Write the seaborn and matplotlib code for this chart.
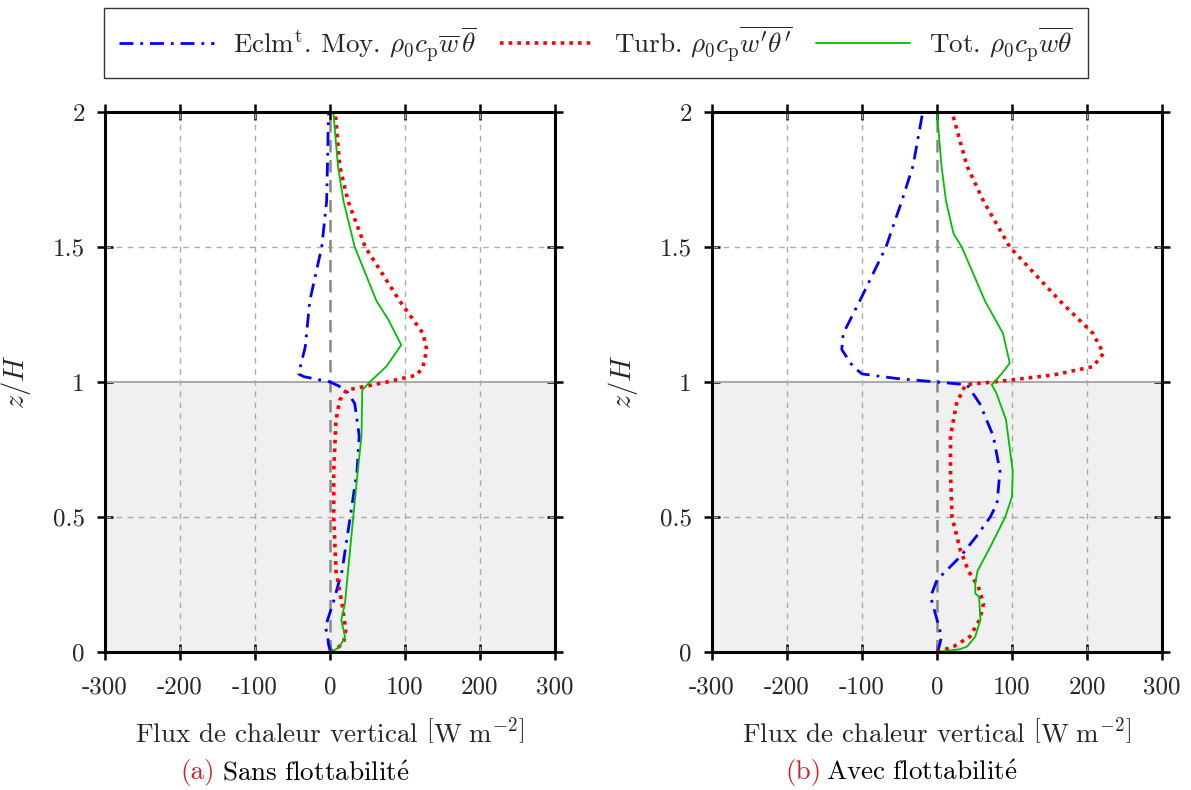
import matplotlib
matplotlib.use("Agg")
import matplotlib.pyplot as plt
import numpy as np
import pandas as pd
import seaborn as sns

# --- data (z/H, flux in W m^-2) ---
# (a) Sans flottabilite
z_mean_a = [0.0, 0.03, 0.056, 0.093, 0.125, 0.18, 0.30, 0.50, 0.67, 0.80, 0.92, 0.96, 0.985,
            1.0, 1.02, 1.03, 1.13, 1.30, 1.50, 1.67, 1.85, 2.0]
flux_mean_a = [0.5, -2, -3, -6, -2.5, 4, 16, 27, 36, 39, 33, 24, 12,
               0, -35, -42, -33, -27, -11, -4.5, -3, -2]
z_turb_a = [0.0, 0.015, 0.033, 0.08, 0.18, 0.30, 0.50, 0.67, 0.86, 0.933, 0.97,
            1.0, 1.026, 1.057, 1.12, 1.18, 1.30, 1.50, 1.67, 1.80, 2.0]
flux_turb_a = [0.5, 10, 18, 21, 16, 8, 5, 5, 8, 13, 22,
               76, 116, 124, 129, 124, 93, 47, 24, 13, 7]
z_tot_a = [0.0, 0.01, 0.02, 0.056, 0.119, 0.18, 0.30, 0.50, 0.67, 0.80, 0.97,
           1.0, 1.057, 1.137, 1.23, 1.30, 1.50, 1.67, 1.80, 2.0]
flux_tot_a = [0.5, 8, 13, 20, 15, 20, 24, 31, 37, 42, 43,
              53, 75, 95, 78, 62, 33, 18, 10.6, 4.4]

# (b) Avec flottabilite
z_mean_b = [0.0, 0.01, 0.057, 0.12, 0.205, 0.267, 0.353, 0.43, 0.50, 0.55, 0.67, 0.80, 0.92,
            0.99, 1.0, 1.013, 1.03, 1.057, 1.12, 1.18, 1.30, 1.50, 1.67, 1.80, 2.0]
flux_mean_b = [0, 2, 6, 0, -8.5, 0, 31, 53, 71, 80, 84, 75, 57,
               40, 0, -54, -100, -112, -127, -125, -103, -68, -47, -32, -19]
z_turb_b = [0.0, 0.02, 0.057, 0.12, 0.18, 0.242, 0.30, 0.378, 0.50, 0.67, 0.80, 0.92, 0.99,
            1.0, 1.026, 1.057, 1.106, 1.18, 1.30, 1.50, 1.67, 1.80, 2.0]
flux_turb_b = [0, 22, 44, 57, 62, 55, 42, 31, 20, 18, 18, 26, 38,
               75, 155, 208, 222, 208, 164, 97, 62, 40, 20]
z_tot_b = [0.0, 0.01, 0.02, 0.057, 0.12, 0.205, 0.217, 0.254, 0.30, 0.40, 0.50, 0.575, 0.67,
           0.86, 0.96, 0.99, 1.03, 1.07, 1.18, 1.30, 1.50, 1.55, 1.67, 1.80, 2.0]
flux_tot_b = [0, 30, 40, 51, 58, 56, 51, 51, 54, 73, 91, 100, 101,
              92, 79, 73, 86, 97, 88, 64, 33, 22, 12, 6, 0]

x_ticks = [-300, -200, -100, 0, 100, 200, 300]
x_ticklabels = ["-300", "-200", "-100", "0", "100", "200", "300"]
y_ticks = [0, 0.5, 1, 1.5, 2]
y_ticklabels = ["0", "0.5", "1", "1.5", "2"]

labels = [
    r"Eclm$^{\mathrm{t}}$. Moy. $\rho_0 c_\mathrm{p}\overline{w}\,\overline{\theta}$",
    r"Turb. $\rho_0 c_\mathrm{p}\overline{w'\theta'}$",
    r"Tot. $\rho_0 c_\mathrm{p}\overline{w\theta}$",
]
captions = [("(a)", r"$\mathrm{Sans\ flottabilit\acute{e}}$"),
            ("(b)", r"$\mathrm{Avec\ flottabilit\acute{e}}$")]

sns.set_theme(style="ticks")
plt.rcParams["font.family"] = ["cmr10", "DejaVu Serif"]
plt.rcParams["mathtext.fontset"] = "cm"
plt.rcParams["axes.formatter.use_mathtext"] = True
FS_TICK = 18
FS_LAB = 19.5

styles = [
    dict(color="#0000ff", linestyle=(0, (5, 2.5, 1, 2.5)), linewidth=2.0),
    dict(color="#ff0000", linestyle=(0, (1, 1.4)), linewidth=2.6),
    dict(color="#00c000", linestyle="-", linewidth=1.3),
]

panels = [
    [(z_mean_a, flux_mean_a), (z_turb_a, flux_turb_a), (z_tot_a, flux_tot_a)],
    [(z_mean_b, flux_mean_b), (z_turb_b, flux_turb_b), (z_tot_b, flux_tot_b)],
]

fig = plt.figure(figsize=(11.91, 7.9), dpi=100)
ax_lefts = [105 / 1191, 712 / 1191]
axes = []
for k, curves in enumerate(panels):
    ax = fig.add_axes([ax_lefts[k], 138 / 790, 450 / 1191, 540 / 790])
    axes.append(ax)

    # shaded canopy region and reference lines
    ax.axhspan(0, 1, color="#f0f0f0", zorder=0, linewidth=0)
    for xv in [-200, -100, 100, 200]:
        ax.axvline(xv, color="#aaaaaa", linestyle=(0, (4, 4)), linewidth=1.0, zorder=1)
    for yv in [0.5, 1.5]:
        ax.axhline(yv, color="#aaaaaa", linestyle=(0, (4, 4)), linewidth=1.0, zorder=1)
    ax.axvline(0, color="#888888", linestyle=(0, (5, 3)), linewidth=1.8, zorder=1)
    ax.axhline(1, color="#aaaaaa", linestyle="-", linewidth=1.4, zorder=1)

    for (z, flux), st, lab in zip(curves, styles, labels):
        df = pd.DataFrame({"flux": flux, "z": z})
        sns.lineplot(data=df, x="flux", y="z", sort=False, estimator=None,
                     ax=ax, label=lab, legend=False, zorder=3, **st)

    ax.set_xlim(-300, 300)
    ax.set_ylim(0, 2)
    ax.set_xticks(x_ticks)
    ax.set_xticklabels(x_ticklabels, fontsize=FS_TICK)
    ax.set_yticks(y_ticks)
    ax.set_yticklabels(y_ticklabels, fontsize=FS_TICK)
    ax.tick_params(axis="both", direction="inout", length=11, width=1.8,
                   top=True, right=True, color="black")
    ax.tick_params(axis="x", pad=12)
    ax.tick_params(axis="y", pad=9)
    for sp in ax.spines.values():
        sp.set_linewidth(2.2)
        sp.set_color("black")
        sp.set_zorder(5)
    ax.set_xlabel(r"Flux de chaleur vertical $\left[\mathrm{W\ m^{-2}}\right]$",
                  fontsize=FS_LAB, labelpad=14)
    ax.set_ylabel(r"$z/H$", fontsize=FS_LAB + 1, labelpad=14)
    ax.set_facecolor("white")

# captions below each panel
cap_x = [(180, 222), (785, 826)]
for (tag, txt), (x0, x1) in zip(captions, cap_x):
    fig.text(x0 / 1191, 1 - 773 / 790, tag, color="#d42020", fontsize=FS_LAB,
             ha="left", va="center")
    fig.text(x1 / 1191, 1 - 773 / 790, txt, color="black", fontsize=FS_LAB,
             ha="left", va="center")

handles, labs = axes[0].get_legend_handles_labels()
leg = fig.legend(handles, labs, loc="upper center", bbox_to_anchor=(596 / 1191, 1 - 8 / 790),
                 ncol=3, fontsize=FS_LAB, frameon=True, fancybox=False, edgecolor="black",
                 handlelength=3.5, handletextpad=0.7, columnspacing=0.85, borderpad=0.55,
                 borderaxespad=0)
leg.get_frame().set_linewidth(1.0)

fig.savefig("out.png", dpi=100)
